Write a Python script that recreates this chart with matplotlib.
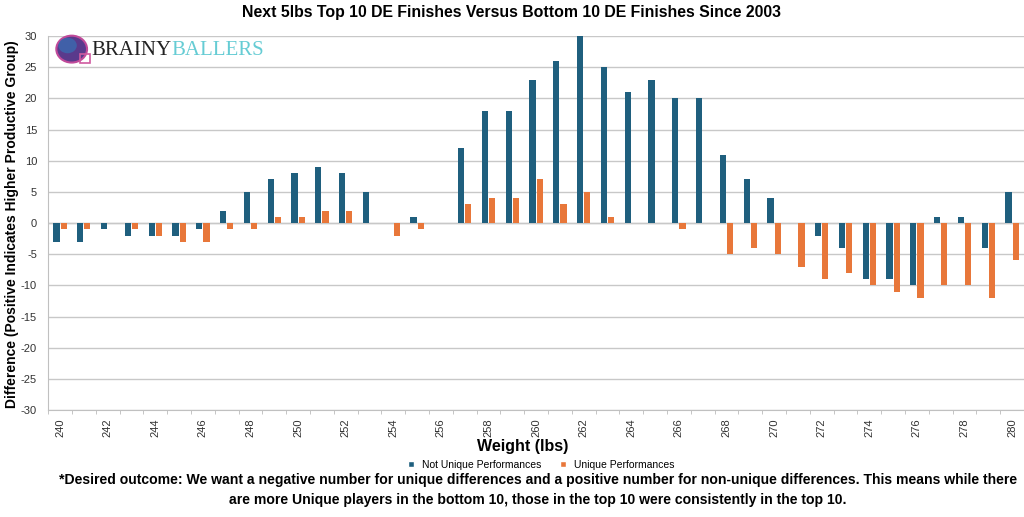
import numpy as np
import matplotlib
matplotlib.use("Agg")
import matplotlib.pyplot as plt
from matplotlib.patches import Ellipse, Rectangle
from matplotlib.lines import Line2D

# weights and the two difference series (top 10 minus bottom 10)
weights = list(range(240, 281))
not_unique = [-3, -3, -1, -2, -2, -2, -1, 2, 5, 7, 8, 9, 8, 5, 0, 1, 0,
              12, 18, 18, 23, 26, 30, 25, 21, 23, 20, 20, 11, 7, 4, 0,
              -2, -4, -9, -9, -10, 1, 1, -4, 5]
unique = [-1, -1, 0, -1, -2, -3, -3, -1, -1, 1, 1, 2, 2, 0, -2, -1, 0,
          3, 4, 4, 7, 3, 5, 1, 0, 0, -1, 0, -5, -4, -5, -7,
          -9, -8, -10, -11, -12, -10, -10, -12, -6]
labels = ["Not Unique Performances", "Unique Performances"]

blue = "#1f5f7e"
orange = "#e8773a"
plt.rcParams['font.family'] = ["Liberation Sans", "DejaVu Sans"]
plt.rcParams['axes.unicode_minus'] = False

fig = plt.figure(figsize=(10.24, 5.17), dpi=100)
ax = fig.add_axes([0.047, 0.207, 0.953, 0.723])

x = np.arange(len(weights))
w = 0.26
ax.bar(x - 0.15, not_unique, w, color=blue, label=labels[0], zorder=3)
ax.bar(x + 0.15, unique, w, color=orange, label=labels[1], zorder=3)

ax.set_xlim(-0.5, len(weights) - 0.5)
ax.set_ylim(-30, 30)
ax.set_yticks(range(-30, 31, 5))
ax.grid(axis="y", color="#c8c8c8", linewidth=1.0, zorder=0)
ax.tick_params(axis="y", length=0, labelsize=8, colors="#333333", pad=8)

ax.set_xticks(x[::2])
ax.set_xticklabels([str(v) for v in weights[::2]], rotation=90)
ax.set_xticks(np.arange(-0.5, len(weights), 1), minor=True)
ax.tick_params(axis="x", which="major", length=0, labelsize=8,
               colors="#333333", pad=6)
ax.tick_params(axis="x", which="minor", length=3, color="#bbbbbb")

for s in ["top", "right"]:
    ax.spines[s].set_visible(False)
for s in ["left", "bottom"]:
    ax.spines[s].set_color("#c0c0c0")

ax.axhline(0, color="#c8c8c8", linewidth=1.0, zorder=1)

fig.text(0.50, 0.976, "Next 5lbs Top 10 DE Finishes Versus Bottom 10 DE Finishes Since 2003",
         ha="center", va="center", fontsize=11.4, fontweight="bold")
fig.text(0.012, 0.567, "Difference (Positive Indicates Higher Productive Group)",
         rotation=90, ha="center", va="center", fontsize=10, fontweight="bold")
fig.text(0.510, 0.137, "Weight (lbs)", ha="center", va="center",
         fontsize=11.5, fontweight="bold")

leg = fig.legend(handles=[
    Line2D([], [], marker="s", color="w", markerfacecolor=blue, markersize=5, label=labels[0]),
    Line2D([], [], marker="s", color="w", markerfacecolor=orange, markersize=5, label=labels[1])],
    loc="center", bbox_to_anchor=(0.525, 0.101), ncol=2, frameon=False,
    prop={"size": 7.5}, handletextpad=0.1, columnspacing=1.0)

fig.text(0.525, 0.071, "*Desired outcome: We want a negative number for unique differences and a positive number "
         "for non-unique differences. This means while there", ha="center", va="center",
         fontsize=10.1, fontweight="bold")
fig.text(0.525, 0.032, "are more Unique players in the bottom 10, those in the top 10 were consistently in the top 10.",
         ha="center", va="center", fontsize=10.1, fontweight="bold")

# logo
fig.patches.append(Ellipse((0.070, 0.905), 0.030, 0.052, transform=fig.transFigure,
                           facecolor="#5a3a8c", edgecolor="#c04a9a", linewidth=1.5, zorder=5))
fig.patches.append(Ellipse((0.066, 0.912), 0.018, 0.030, transform=fig.transFigure,
                           facecolor="#3a6ab0", edgecolor="none", zorder=6, alpha=0.8))
fig.patches.append(Rectangle((0.078, 0.878), 0.010, 0.018, transform=fig.transFigure,
                             facecolor="none", edgecolor="#d05aa0", linewidth=1.2, zorder=6))
t1 = fig.text(0.089, 0.903, "BRAINY", ha="left", va="center", fontsize=15,
              family=["Liberation Serif", "DejaVu Serif"], color="#222222")
fig.canvas.draw()
bb = t1.get_window_extent().transformed(fig.transFigure.inverted())
fig.text(bb.x1, 0.903, "BALLERS", ha="left", va="center", fontsize=15,
         family=["Liberation Serif", "DejaVu Serif"], color="#66ccd4")

fig.savefig("out.png", dpi=100)
